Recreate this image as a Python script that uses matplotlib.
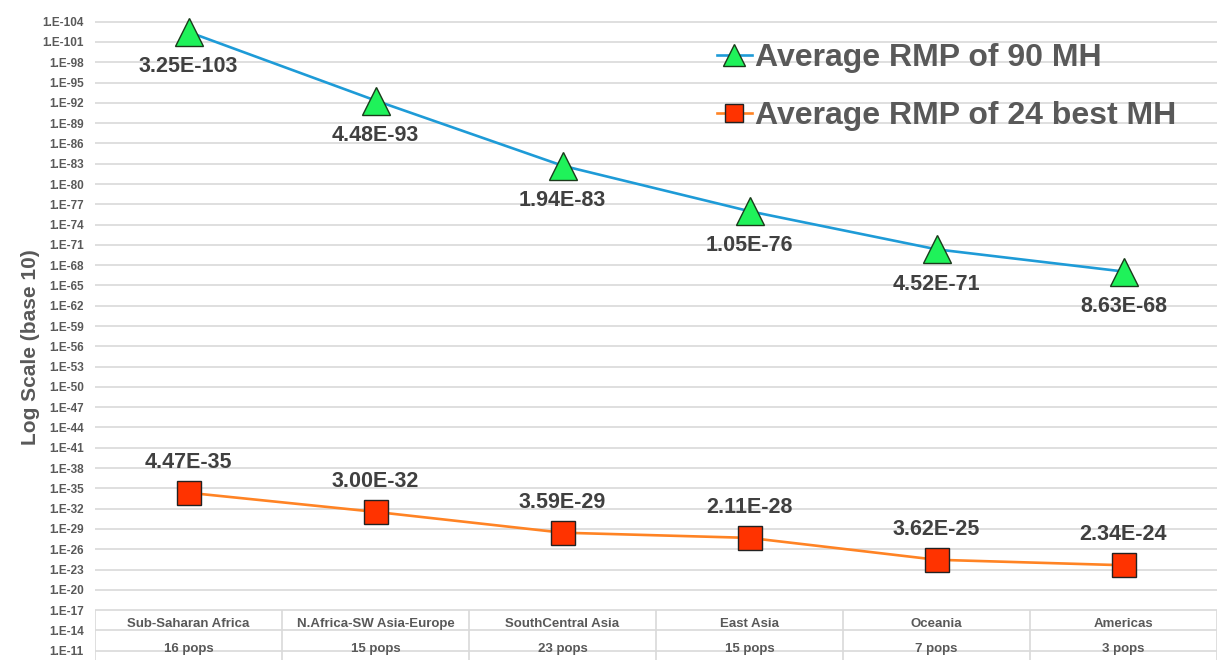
import numpy as np
import matplotlib.pyplot as plt
from matplotlib.ticker import FixedLocator, FuncFormatter

plt.rcParams['font.family'] = ['Liberation Sans', 'DejaVu Sans']

# data
regions = ["Sub-Saharan Africa", "N.Africa-SW Asia-Europe", "SouthCentral Asia",
           "East Asia", "Oceania", "Americas"]
pops = ["16 pops", "15 pops", "23 pops", "15 pops", "7 pops", "3 pops"]
rmp_90 = [3.25e-103, 4.48e-93, 1.94e-83, 1.05e-76, 4.52e-71, 8.63e-68]
rmp_24 = [4.47e-35, 3.00e-32, 3.59e-29, 2.11e-28, 3.62e-25, 2.34e-24]
tick_exps = list(range(104, 10, -3))

grey = '#595959'
dark = '#404040'

fig = plt.figure(figsize=(12.17, 6.6), dpi=100)
ax = fig.add_axes([95 / 1217, 0, 1 - 95 / 1217, 1])

x = np.arange(len(regions))
ax.plot(x, rmp_90, color='#1e9bd7', lw=1.9, marker='^', ms=20,
        mfc='#1ff25a', mec='#1a3a1a', mew=1.0, zorder=3, clip_on=False,
        label="Average RMP of 90 MH")
ax.plot(x, rmp_24, color='#ff8324', lw=1.9, marker='s', ms=17,
        mfc='#ff3300', mec='#222222', mew=1.0, zorder=3, clip_on=False,
        label="Average RMP of 24 best MH")

ax.set_yscale('log')
ax.set_ylim(10 ** -9.62, 10 ** -107.21)
ax.set_xlim(-0.5, len(regions) - 0.5)

ax.yaxis.set_major_locator(FixedLocator([10.0 ** -e for e in tick_exps]))
ax.yaxis.set_minor_locator(FixedLocator([]))
ax.yaxis.set_major_formatter(FuncFormatter(lambda v, p: "1.E-%d" % round(-np.log10(v))))
ax.tick_params(axis='y', length=0, pad=8, labelsize=8.5, labelcolor=grey)
for t in ax.get_yticklabels():
    t.set_fontweight('bold')
ax.set_xticks([])
ax.grid(axis='y', color='#d9d9d9', lw=1.2)
ax.set_axisbelow(True)
for s in ax.spines.values():
    s.set_visible(False)

ax.set_ylabel("Log Scale (base 10)", fontsize=15, fontweight='bold', color=grey)
ax.yaxis.set_label_coords(-0.049, 0.474)

# value labels
for i, v in enumerate(rmp_90):
    ax.annotate("%.2E" % v, (i, v), xytext=(0, -25), textcoords='offset points',
                ha='center', va='center', fontsize=15.5, fontweight='bold', color=dark)
for i, v in enumerate(rmp_24):
    ax.annotate("%.2E" % v, (i, v), xytext=(0, 22), textcoords='offset points',
                ha='center', va='center', fontsize=15.5, fontweight='bold', color=dark)

# category table at bottom of plot area
for b in np.arange(-0.5, len(regions) + 0.5):
    ax.plot([b, b], [10 ** -16.9, 10 ** -9.62], color='#d9d9d9', lw=1.2, zorder=1)
for i in x:
    ax.text(i, 10 ** -14.95, regions[i], ha='center', va='center', fontsize=9.5,
            fontweight='bold', color=grey)
    ax.text(i, 10 ** -11.25, pops[i], ha='center', va='center', fontsize=9.5,
            fontweight='bold', color=grey)

leg = ax.legend(loc='upper left', bbox_to_anchor=(0.540, 0.959), frameon=False,
                fontsize=23, handlelength=1.1, handletextpad=0.1, labelspacing=0.875,
                borderpad=0, markerscale=0.8)
for t in leg.get_texts():
    t.set_fontweight('bold')
    t.set_color(grey)

fig.savefig('out.png', dpi=100)
